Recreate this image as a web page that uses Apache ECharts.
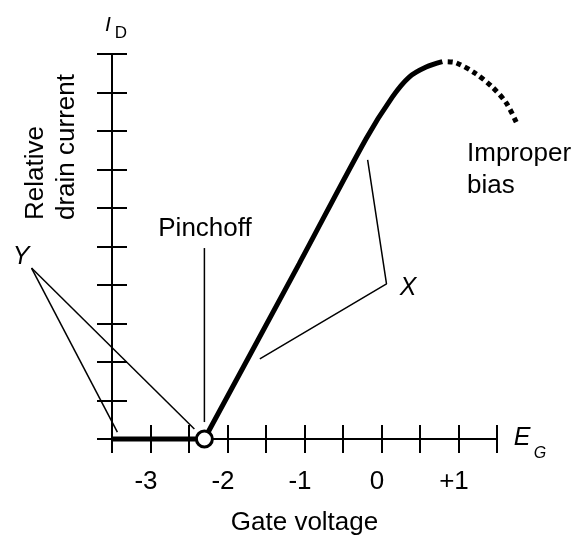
<!DOCTYPE html>
<html>
<head>
<meta charset="utf-8">
<script src="https://cdn.jsdelivr.net/npm/echarts@6/dist/echarts.min.js"></script>
<style>html,body{margin:0;padding:0;background:#fff}#c{width:578px;height:536px}</style>
</head>
<body>
<div id="c"></div>
<script>
// ---- data ----
const xLabelValues = [-3, -2, -1, 0, 1];
const xLabelTexts = ['-3', '-2', '-1', '0', '+1'];
const cutoffX = [-3.5, -2.3];
const cutoffY = [0, 0];
const curveX = [-2.3, -1.07, -0.2, 0.14, 0.36, 0.58, 0.79];
const curveY = [0, 4.55, 7.8, 8.88, 9.4, 9.66, 9.8];
const improperX = [0.86, 0.97, 1.21, 1.44, 1.62, 1.75];
const improperY = [9.8, 9.77, 9.51, 9.14, 8.73, 8.23];
const pinchoffPoint = [-2.3, 0];
const pinchoffLeaderX = [-2.3, -2.3];
const pinchoffLeaderY = [4.96, 0.44];
const yLeaderAX = [-4.545, -3.43];
const yLeaderAY = [4.44, 0.18];
const yLeaderBX = [-4.545, -2.43];
const yLeaderBY = [4.44, 0.26];
const xLeaderX = [-0.18, 0.065, -1.58];
const xLeaderY = [7.25, 4.03, 2.08];

const zip = (a, b) => a.map((v, i) => [v, b[i]]);
const FONT = 'Liberation Sans, Arial, sans-serif';
const W = 578, H = 536;
const G = { left: 112, right: 81, top: 54, bottom: 97 };
const XMIN = -3.5, XMAX = 1.5, YMIN = 0, YMAX = 10;
// full-canvas overlay grid sharing the same data scale (for marks outside the plot area)
const pxX = (W - G.left - G.right) / (XMAX - XMIN);
const pxY = (H - G.top - G.bottom) / (YMAX - YMIN);
const oXmin = XMIN - G.left / pxX, oXmax = XMAX + G.right / pxX;
const oYmin = YMIN - G.bottom / pxY, oYmax = YMAX + G.top / pxY;

const chart = echarts.init(document.getElementById('c'));
const axisCommon = { type: 'value', min: XMIN, max: XMAX, interval: 0.5, splitLine: { show: false }, gridIndex: 0 };
const yCommon = { type: 'value', min: YMIN, max: YMAX, interval: 1, splitLine: { show: false }, axisLabel: { show: false }, gridIndex: 0 };
const hidden = { show: false, type: 'value', gridIndex: 1, splitLine: { show: false } };
const thin = { color: '#000', width: 1.5 };
const lineSeries = (data, style, z, overlay) => ({
  type: 'line', data, symbol: 'none', clip: false, z: z || 3,
  xAxisIndex: overlay ? 2 : 0, yAxisIndex: overlay ? 2 : 0,
  lineStyle: style, silent: true, animation: false
});

chart.setOption({
  animation: false,
  grid: [
    { left: G.left, right: G.right, top: G.top, bottom: G.bottom, containLabel: false, outerBoundsMode: 'none' },
    { left: 0, right: 0, top: 0, bottom: 0, containLabel: false, outerBoundsMode: 'none' }
  ],
  xAxis: [
    Object.assign({}, axisCommon, {
      position: 'bottom',
      axisLine: { onZero: false, lineStyle: { color: '#000', width: 2 } },
      axisTick: { length: 14, lineStyle: { color: '#000', width: 2 } },
      axisLabel: {
        margin: 30, color: '#000', fontSize: 26, fontFamily: FONT,
        padding: [0, 9, 0, 0],
        formatter: v => {
          const i = xLabelValues.indexOf(Math.round(v * 100) / 100);
          return i >= 0 ? xLabelTexts[i] : '';
        }
      },
      name: 'Gate voltage', nameLocation: 'middle', nameGap: 71,
      nameTextStyle: { color: '#000', fontSize: 26, fontFamily: FONT }
    }),
    Object.assign({}, axisCommon, {
      position: 'bottom',
      axisLine: { show: false, onZero: false },
      axisTick: { inside: true, length: 14, lineStyle: { color: '#000', width: 2 } },
      axisLabel: { show: false }
    }),
    Object.assign({}, hidden, { min: oXmin, max: oXmax })
  ],
  yAxis: [
    Object.assign({}, yCommon, {
      position: 'left',
      axisLine: { onZero: false, lineStyle: { color: '#000', width: 2 } },
      axisTick: { length: 15, lineStyle: { color: '#000', width: 2 } }
    }),
    Object.assign({}, yCommon, {
      position: 'left',
      axisLine: { show: false, onZero: false },
      axisTick: { inside: true, length: 15, lineStyle: { color: '#000', width: 2 } }
    }),
    Object.assign({}, hidden, { min: oYmin, max: oYmax })
  ],
  series: [
    lineSeries(zip(yLeaderAX, yLeaderAY), thin, 3, true),
    lineSeries(zip(yLeaderBX, yLeaderBY), thin, 3, true),
    lineSeries(zip(pinchoffLeaderX, pinchoffLeaderY), thin, 3, true),
    lineSeries(zip(xLeaderX, xLeaderY), thin, 3, true),
    lineSeries(zip(cutoffX, cutoffY), { color: '#000', width: 5, cap: 'butt' }, 5),
    Object.assign(lineSeries(zip(curveX, curveY), { color: '#000', width: 5, cap: 'butt' }, 5), { smooth: 0.3 }),
    Object.assign(lineSeries(zip(improperX, improperY), { color: '#000', width: 5, type: [5, 4], cap: 'butt' }, 5, true),
      { smooth: 0.3 }),
    {
      type: 'scatter', data: [pinchoffPoint], symbol: 'circle', symbolSize: 16, z: 10,
      itemStyle: { color: '#fff', borderColor: '#000', borderWidth: 3, opacity: 1 },
      silent: true, animation: false
    }
  ],
  graphic: [
    { type: 'text', x: 51, y: 220, rotation: Math.PI / 2, z: 20,
      style: { text: 'Relative\ndrain current', fontSize: 26, fontFamily: FONT, fill: '#000',
               align: 'left', verticalAlign: 'middle', lineHeight: 31 } },
    { type: 'text', x: 205, y: 229, z: 20,
      style: { text: 'Pinchoff', fontSize: 26, fontFamily: FONT, fill: '#000', align: 'center', verticalAlign: 'middle' } },
    { type: 'text', x: 467, y: 170, z: 20,
      style: { text: 'Improper\nbias', fontSize: 26, fontFamily: FONT, fill: '#000', align: 'left', verticalAlign: 'middle', lineHeight: 32 } },
    { type: 'text', x: 21, y: 257, z: 20,
      style: { text: 'Y', fontSize: 25, fontStyle: 'italic', fontFamily: FONT, fill: '#000', align: 'center', verticalAlign: 'middle' } },
    { type: 'text', x: 408, y: 288, z: 20,
      style: { text: 'X', fontSize: 25, fontStyle: 'italic', fontFamily: FONT, fill: '#000', align: 'center', verticalAlign: 'middle' } },
    { type: 'text', x: 522, y: 438, z: 20,
      style: { text: 'E', fontSize: 25, fontStyle: 'italic', fontFamily: FONT, fill: '#000', align: 'center', verticalAlign: 'middle' } },
    { type: 'text', x: 540, y: 454, z: 20,
      style: { text: 'G', fontSize: 16, fontStyle: 'italic', fontFamily: FONT, fill: '#000', align: 'center', verticalAlign: 'middle' } },
    { type: 'text', x: 108, y: 25, z: 20,
      style: { text: 'I', fontSize: 21, fontStyle: 'italic', fontFamily: FONT, fill: '#000', align: 'center', verticalAlign: 'middle' } },
    { type: 'text', x: 121, y: 33, z: 20,
      style: { text: 'D', fontSize: 17, fontFamily: FONT, fill: '#000', align: 'center', verticalAlign: 'middle' } }
  ]
});
</script>
</body>
</html>
